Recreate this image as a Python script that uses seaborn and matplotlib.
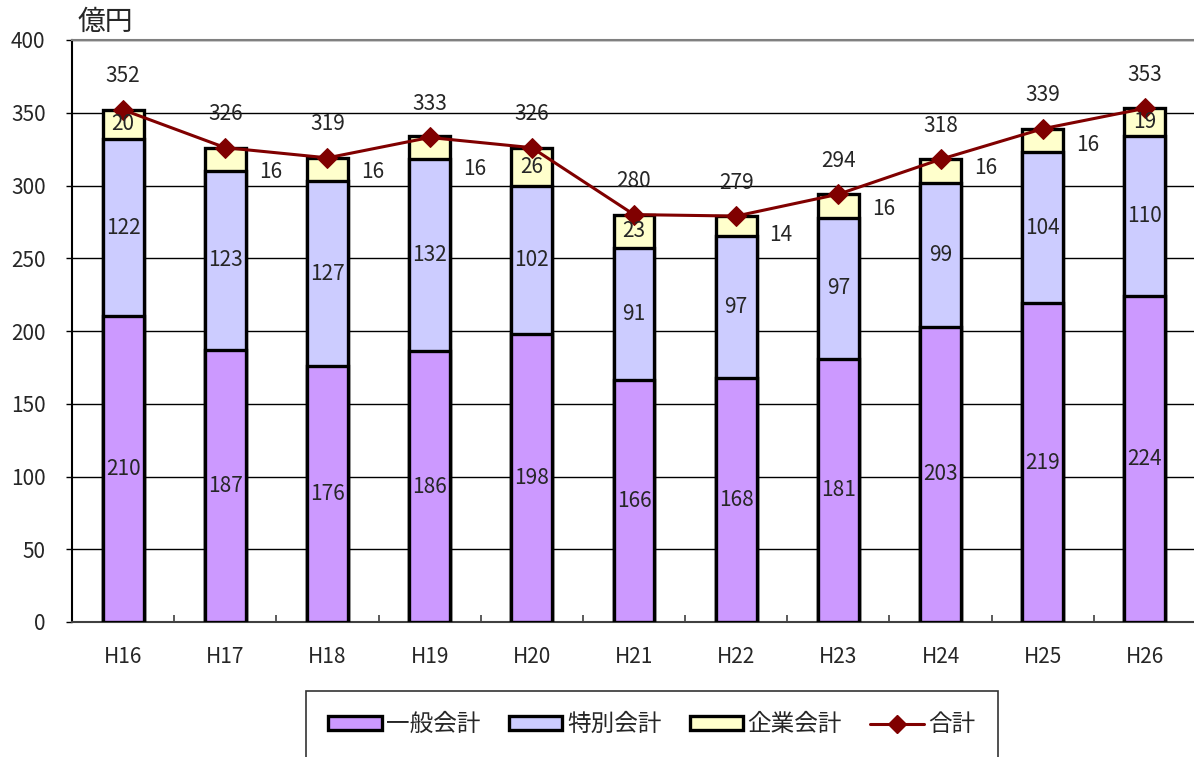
import numpy as np
import pandas as pd
import matplotlib
matplotlib.use("Agg")
import matplotlib.pyplot as plt
import seaborn as sns
from matplotlib.patches import Patch
from matplotlib.lines import Line2D

# data
years = ["H16", "H17", "H18", "H19", "H20", "H21", "H22", "H23", "H24", "H25", "H26"]
ippan = [210, 187, 176, 186, 198, 166, 168, 181, 203, 219, 224]
tokubetsu = [122, 123, 127, 132, 102, 91, 97, 97, 99, 104, 110]
kigyo = [20, 16, 16, 16, 26, 23, 14, 16, 16, 16, 19]
goukei = [352, 326, 319, 333, 326, 280, 279, 294, 318, 339, 353]
kigyo_inside = [True, False, False, False, True, True, False, False, False, False, True]
# label nudges for the 企業会計 labels set beside the bars
kigyo_dy = [0, -9, -2, -15, 0, 0, -6, -2, 2, -3, 0]

sns.set_theme(style="white")
plt.rcParams["font.family"] = ["Noto Sans CJK JP", "DejaVu Sans"]

df = pd.DataFrame({"year": years, "ippan": ippan, "tokubetsu": tokubetsu, "kigyo": kigyo})
df["c2"] = df["ippan"] + df["tokubetsu"]
df["c3"] = df["c2"] + df["kigyo"]

fig = plt.figure(figsize=(11.94, 7.57), dpi=100)
ax = fig.add_axes([72 / 1194, 1 - 622 / 757, 1124 / 1194, 582 / 757])

edge = dict(edgecolor="black", linewidth=2.4, width=0.4, saturation=1, zorder=3)
sns.barplot(data=df, x="year", y="c3", color="#FFFFCC", ax=ax, **edge)
sns.barplot(data=df, x="year", y="c2", color="#CCCCFF", ax=ax, **edge)
sns.barplot(data=df, x="year", y="ippan", color="#CC99FF", ax=ax, **edge)

x = np.arange(len(years))
sns.lineplot(x=x, y=goukei, color="#800000", marker="D", markersize=10,
             markeredgecolor="#800000", linewidth=2.2, ax=ax, zorder=5)

fs = 15
for i in x:
    ax.text(i, ippan[i] / 2, str(ippan[i]), ha="center", va="center", fontsize=fs, zorder=6)
    ax.text(i, ippan[i] + tokubetsu[i] / 2, str(tokubetsu[i]), ha="center", va="center", fontsize=fs, zorder=6)
    mid = ippan[i] + tokubetsu[i] + kigyo[i] / 2
    if kigyo_inside[i]:
        ax.text(i, mid, str(kigyo[i]), ha="center", va="center", fontsize=fs, zorder=6)
    else:
        ax.text(i + 0.44, mid + kigyo_dy[i], str(kigyo[i]), ha="center", va="center", fontsize=fs, zorder=6)
    ax.text(i, goukei[i] + 23, str(goukei[i]), ha="center", va="center", fontsize=fs, zorder=6)

ax.set_xlim(-0.5, len(years) - 0.5)
ax.set_ylim(0, 400)
ax.set_yticks(range(0, 401, 50))
ax.yaxis.grid(True, color="black", linewidth=1)
ax.set_axisbelow(True)
ax.set_xlabel("")
ax.set_ylabel("")
ax.tick_params(axis="y", length=4, width=1, pad=15, labelsize=15, left=True, color="black")
ax.tick_params(axis="x", length=0, pad=17, labelsize=15)
ax.set_xticks(np.arange(len(years) + 1) - 0.5, minor=True)
ax.tick_params(axis="x", which="minor", direction="in", length=5, width=1.2, color="#404040", bottom=True)

ax.spines["left"].set_color("black")
ax.spines["left"].set_linewidth(1.5)
ax.spines["bottom"].set_color("#404040")
ax.spines["bottom"].set_linewidth(1.5)
ax.spines["top"].set_color("#808080")
ax.spines["top"].set_linewidth(1.5)
ax.spines["right"].set_visible(False)

fig.text(78 / 1194, 1 - 22 / 757, "億円", fontsize=20, ha="left", va="center")

handles = [
    Patch(facecolor="#CC99FF", edgecolor="black", linewidth=2.4, label="一般会計"),
    Patch(facecolor="#CCCCFF", edgecolor="black", linewidth=2.4, label="特別会計"),
    Patch(facecolor="#FFFFCC", edgecolor="black", linewidth=2.4, label="企業会計"),
    Line2D([0], [0], color="#800000", marker="D", markersize=9, linewidth=2.2, label="合計"),
]
leg = fig.legend(handles=handles, loc="upper center", bbox_to_anchor=(652 / 1194, 1 - 691 / 757),
                 ncol=4, fontsize=17, frameon=True, fancybox=False, edgecolor="black",
                 handlelength=2.25, handleheight=0.5, handletextpad=0.2, columnspacing=1.2,
                 borderpad=0.95, borderaxespad=0)
leg.get_frame().set_linewidth(1.2)

fig.savefig("out.png", dpi=100)
